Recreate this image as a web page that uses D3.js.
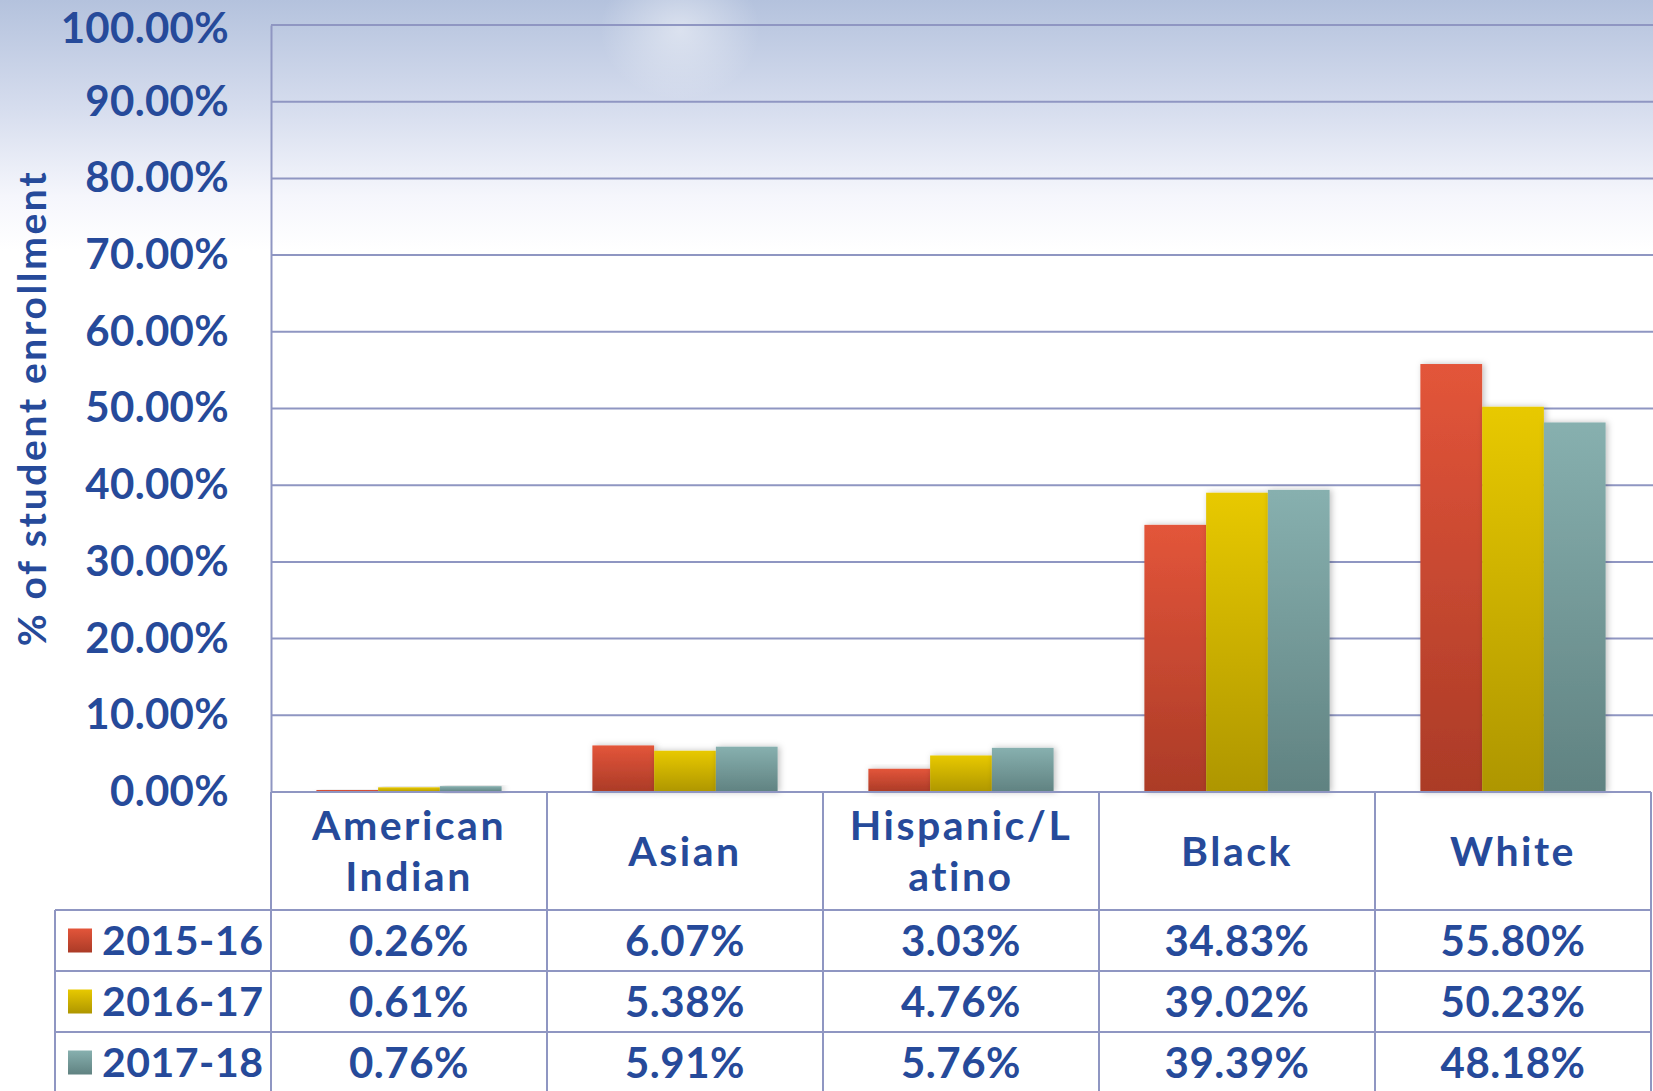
<!DOCTYPE html>
<html>
<head>
<meta charset="utf-8">
<script src="https://d3js.org/d3.v7.min.js"></script>
<style>
  body { margin: 0; background: #fff; }
  text { font-family: "Lato", "DejaVu Sans", sans-serif; font-weight: 700; fill: #264a9a; }
</style>
</head>
<body>
<div id="visualization"></div>
<script>
// chart data
const categories = ["American Indian", "Asian", "Hispanic/Latino", "Black", "White"];
const categoryLines = [["American", "Indian"], ["Asian"], ["Hispanic/L", "atino"], ["Black"], ["White"]];
const years = ["2015-16", "2016-17", "2017-18"];
const values2015 = [0.26, 6.07, 3.03, 34.83, 55.80];
const values2016 = [0.61, 5.38, 4.76, 39.02, 50.23];
const values2017 = [0.76, 5.91, 5.76, 39.39, 48.18];
const yTicks = [0, 10, 20, 30, 40, 50, 60, 70, 80, 90, 100];

const seriesValues = [values2015, values2016, values2017];
const topColors = ["#e3553a", "#e8c900", "#87b0af"];
const bottomColors = ["#ab3b27", "#ae9600", "#608281"];

const svgWidth = 1653;
const svgHeight = 1091;
const plot = { left: 271, right: 1651, top: 25, bottom: 792 };
const gridColor = "#8f96c2";
const rowH = 61;
const headerBottom = 910;

const svg = d3.select("#visualization")
  .append("svg")
  .attr("width", svgWidth)
  .attr("height", svgHeight);

const defs = svg.append("defs");

// background gradient
const bg = defs.append("linearGradient").attr("id", "bg").attr("x1", 0).attr("y1", 0).attr("x2", 0).attr("y2", 1);
bg.append("stop").attr("offset", "0").attr("stop-color", "#b4c2dd");
bg.append("stop").attr("offset", "0.1").attr("stop-color", "#d6ddee");
bg.append("stop").attr("offset", "0.18").attr("stop-color", "#f5f6fc");
bg.append("stop").attr("offset", "0.23").attr("stop-color", "#ffffff");
bg.append("stop").attr("offset", "1").attr("stop-color", "#ffffff");

const glow = defs.append("radialGradient").attr("id", "glow");
glow.append("stop").attr("offset", "0").attr("stop-color", "#ffffff").attr("stop-opacity", 0.45);
glow.append("stop").attr("offset", "1").attr("stop-color", "#ffffff").attr("stop-opacity", 0);

topColors.forEach((c, i) => {
  const g = defs.append("linearGradient").attr("id", "bar" + i).attr("x1", 0).attr("y1", 0).attr("x2", 0).attr("y2", 1);
  g.append("stop").attr("offset", "0").attr("stop-color", c);
  g.append("stop").attr("offset", "1").attr("stop-color", bottomColors[i]);
});

const shadow = defs.append("filter").attr("id", "shadow")
  .attr("x", "-20%").attr("y", "-20%").attr("width", "140%").attr("height", "140%");
shadow.append("feDropShadow").attr("dx", 2).attr("dy", 0).attr("stdDeviation", 3)
  .attr("flood-color", "#000").attr("flood-opacity", 0.25);

svg.append("rect").attr("width", svgWidth).attr("height", svgHeight).attr("fill", "url(#bg)");
svg.append("ellipse").attr("cx", 680).attr("cy", 30).attr("rx", 80).attr("ry", 70).attr("fill", "url(#glow)");

// scales
const xScale = d3.scaleBand(categories, [plot.left, plot.right]).paddingInner(0).paddingOuter(0);
const xSub = d3.scaleBand(d3.range(years.length), [0, xScale.bandwidth()]).paddingInner(0).paddingOuter(0.735);
const yScale = d3.scaleLinear([0, 100], [plot.bottom, plot.top]);

// gridlines
svg.append("g")
  .selectAll("line")
  .data(yTicks.filter(d => d > 0))
  .enter()
  .append("line")
  .attr("x1", plot.left)
  .attr("x2", svgWidth)
  .attr("y1", d => yScale(d))
  .attr("y2", d => yScale(d))
  .attr("stroke", gridColor)
  .attr("stroke-width", 2);

// y axis
const yAxis = d3.axisLeft(yScale)
  .tickValues(yTicks)
  .tickSize(0)
  .tickPadding(42)
  .tickFormat(d => d3.format(".2f")(d) + "%");

const yG = svg.append("g")
  .attr("transform", `translate(${plot.left},0)`)
  .call(yAxis);
yG.select(".domain").attr("stroke", gridColor).attr("stroke-width", 2);
yG.selectAll("text")
  .attr("font-family", null)
  .attr("y", d => d === 100 ? 4 : 0) // keep top label inside the page
  .style("font-size", "42px")
  .style("letter-spacing", "0.3px")
  .style("fill", "#264a9a");

// y label
svg.append("text")
  .attr("transform", "rotate(-90)")
  .attr("x", -408)
  .attr("y", 46)
  .style("text-anchor", "middle")
  .style("font-size", "39px")
  .style("letter-spacing", "2.6px")
  .text("% of student enrollment");

// bars
const groups = svg.append("g")
  .selectAll("g")
  .data(categories)
  .enter()
  .append("g")
  .attr("transform", d => `translate(${xScale(d)},0)`);

groups.selectAll("rect")
  .data((d, ci) => seriesValues.map((vals, si) => ({ si: si, v: vals[ci] })))
  .enter()
  .append("rect")
  .attr("x", d => xSub(d.si))
  .attr("y", d => yScale(d.v))
  .attr("width", xSub.bandwidth())
  .attr("height", d => plot.bottom - yScale(d.v))
  .attr("fill", d => `url(#bar${d.si})`)
  .attr("filter", "url(#shadow)");

// data table
const tableBottom = headerBottom + rowH * years.length;
const table = svg.append("g").attr("stroke", gridColor).attr("stroke-width", 2);

table.append("line").attr("x1", plot.left).attr("x2", plot.right).attr("y1", plot.bottom).attr("y2", plot.bottom);
d3.range(years.length).forEach(i => {
  table.append("line").attr("x1", 55).attr("x2", plot.right)
    .attr("y1", headerBottom + rowH * i).attr("y2", headerBottom + rowH * i);
});
table.append("line").attr("x1", 55).attr("x2", 55).attr("y1", headerBottom).attr("y2", tableBottom);
categories.concat(["end"]).forEach((c, i) => {
  const x = plot.left + xScale.step() * i;
  table.append("line").attr("x1", x).attr("x2", x).attr("y1", plot.bottom).attr("y2", tableBottom);
});

// category headers
groups.each(function (d, ci) {
  const lines = categoryLines[ci];
  const cx = xScale.bandwidth() / 2;
  const cy = (plot.bottom + headerBottom) / 2;
  lines.forEach((ln, li) => {
    d3.select(this).append("text")
      .attr("x", cx)
      .attr("y", cy + (li - (lines.length - 1) / 2) * 51)
      .attr("dy", "0.36em")
      .style("text-anchor", "middle")
      .style("font-size", "41px")
      .style("letter-spacing", "2.5px")
      .text(ln);
  });
});

// values
groups.each(function (d, ci) {
  seriesValues.forEach((vals, si) => {
    d3.select(this).append("text")
      .attr("x", xScale.bandwidth() / 2)
      .attr("y", headerBottom + rowH * si + rowH / 2)
      .attr("dy", "0.36em")
      .style("text-anchor", "middle")
      .style("font-size", "42px")
      .style("letter-spacing", "0.5px")
      .text(d3.format(".2f")(vals[ci]) + "%");
  });
});

// legend keys
years.forEach((yr, si) => {
  const cy = headerBottom + rowH * si + rowH / 2;
  svg.append("rect")
    .attr("x", 68)
    .attr("y", cy - 12)
    .attr("width", 24)
    .attr("height", 24)
    .attr("fill", `url(#bar${si})`);
  svg.append("text")
    .attr("x", 102)
    .attr("y", cy)
    .attr("dy", "0.36em")
    .style("font-size", "41px")
    .style("letter-spacing", "0.5px")
    .text(yr);
});
</script>
</body>
</html>
